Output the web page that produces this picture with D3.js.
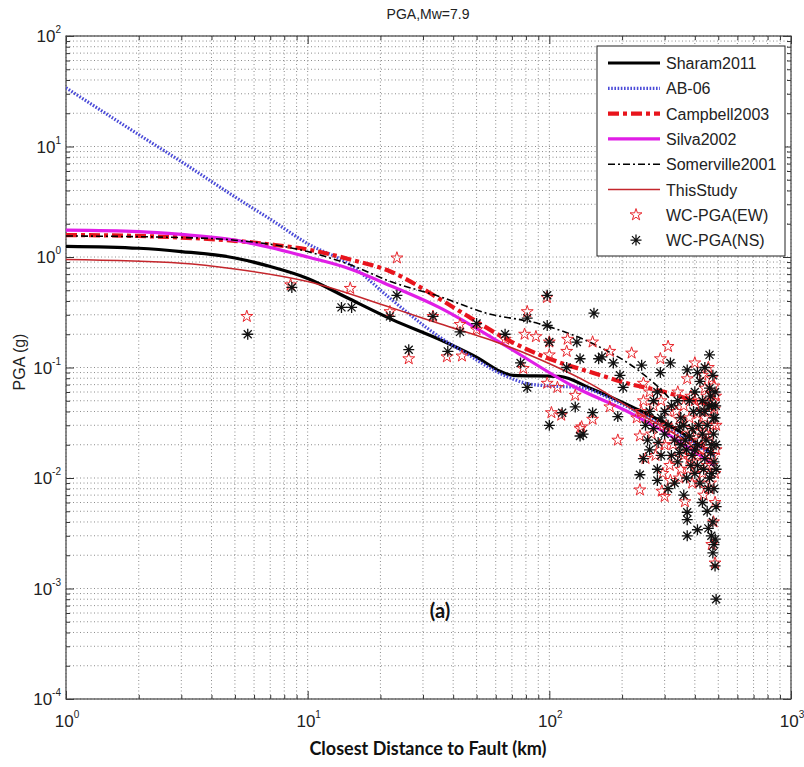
<!DOCTYPE html>
<html>
<head>
<meta charset="utf-8">
<script src="https://cdn.jsdelivr.net/npm/d3@7"></script>
<style>
  body { margin: 0; background: #fff; }
  svg { display: block; font-family: Arial, "Liberation Sans", sans-serif; }
</style>
</head>
<body>
<svg width="804" height="767"></svg>
<script>
// ground motion prediction curves, distance (km) vs PGA (g)
const sharamDist = [1, 2, 3, 5, 7, 10, 14.5, 22.5, 35, 48, 71, 110, 150, 220, 340, 480];
const sharamPga  = [1.25, 1.2, 1.12, 0.98, 0.82, 0.64, 0.43, 0.27, 0.18, 0.13, 0.085, 0.083, 0.064, 0.044, 0.027, 0.016];

const ab06Dist = [1, 2, 3, 5, 7, 10, 15, 22, 35, 45, 65, 80, 100, 135, 180, 250, 350, 480];
const ab06Pga  = [34, 12.8, 7.3, 3.5, 2.2, 1.32, 0.85, 0.42, 0.19, 0.135, 0.085, 0.072, 0.068, 0.066, 0.052, 0.036, 0.024, 0.016];

const campbellDist = [1, 2, 3, 5, 7, 10, 15, 22, 35, 45, 70, 100, 150, 210, 300, 400, 480];
const campbellPga  = [1.58, 1.55, 1.5, 1.4, 1.3, 1.17, 0.95, 0.74, 0.42, 0.3, 0.17, 0.12, 0.09, 0.072, 0.06, 0.05, 0.045];

const silvaDist = [1, 2, 3, 5, 7, 10, 15, 22, 35, 65, 125, 220, 350, 480];
const silvaPga  = [1.75, 1.7, 1.6, 1.42, 1.22, 1.0, 0.78, 0.55, 0.35, 0.16, 0.068, 0.038, 0.021, 0.013];

const somervilleDist = [1, 3, 5, 10, 15, 22, 35, 55, 90, 160, 240, 320, 380, 430, 480];
const somervillePga  = [1.55, 1.5, 1.42, 1.12, 0.85, 0.6, 0.44, 0.31, 0.25, 0.155, 0.09, 0.05, 0.03, 0.021, 0.016];

const thisStudyDist = [1, 3, 5, 10, 22, 35, 65, 90, 150, 220, 350, 480];
const thisStudyPga  = [0.95, 0.88, 0.78, 0.6, 0.35, 0.25, 0.16, 0.12, 0.07, 0.042, 0.023, 0.014];

// recorded PGA, [distance, pga]
const ewPoints = [
  [5.6,0.29],[8.5,0.56],[15,0.52],[23.4,0.98],[21.9,0.32],[26.2,0.12],[33,0.29],[37.7,0.125],
  [43.5,0.127],[42.7,0.245],[50,0.22],[65.6,0.18],[97.8,0.43],[81,0.32],[79,0.2],[88,0.19],
  [100,0.17],[119,0.18],[118,0.14],[100,0.13],[78,0.098],[98,0.072],[108,0.066],[128,0.056],
  [151,0.17],[178,0.14],[219,0.135],[102,0.039],[112,0.037],[151,0.034],[136,0.029],[192,0.022],
  [310,0.155],[288,0.12],[372,0.079],[245,0.072],[178,0.044],[134,0.028],[230,0.035],[237,0.024],
  [346,0.034],[237,0.0078],[292,0.0076],[300,0.0068],[317,0.0095],[364,0.0061],[485,0.0017],
  [260,0.06],[270,0.045],[280,0.03],[290,0.05],[300,0.02],[310,0.04],[320,0.028],[330,0.015],
  [340,0.06],[350,0.012],[360,0.045],[370,0.022],[380,0.035],[390,0.009],[400,0.05],[410,0.016],
  [420,0.03],[430,0.011],[440,0.065],[450,0.02],[460,0.008],[465,0.045],[470,0.013],[475,0.03],
  [480,0.05],[485,0.006],[490,0.018],[478,0.004],[470,0.0025],[488,0.055],[455,0.04],[445,0.025],
  [435,0.007],[425,0.018],[415,0.009],[405,0.026],[395,0.014],[385,0.055],[375,0.012],[365,0.028],
  [355,0.018],[345,0.01],[335,0.04],[325,0.02],[315,0.013],[305,0.03],[295,0.011],[285,0.02],
  [275,0.016],[265,0.025],[255,0.035],[250,0.015],[245,0.05],[240,0.04],
  [470,0.08],[455,0.1],[480,0.068],[430,0.085],[400,0.11],[440,0.035],[460,0.024],[475,0.016],
  [485,0.011],[465,0.009],[450,0.013],[420,0.022],[410,0.038],[395,0.02],[380,0.015],[490,0.03],
  [482,0.042],[468,0.058],[448,0.055],[425,0.045],[405,0.012],[360,0.016],[340,0.022]
];
const nsPoints = [
  [5.65,0.2],[8.6,0.53],[13.8,0.35],[15.2,0.35],[23.4,0.45],[21.9,0.29],[26.2,0.145],[33,0.29],
  [38,0.14],[42.7,0.21],[50,0.25],[65.6,0.2],[98,0.45],[81,0.28],[98,0.24],[100,0.17],
  [130,0.17],[118,0.1],[76,0.11],[81,0.066],[113,0.039],[128,0.044],[151,0.039],[100,0.03],
  [138,0.025],[192,0.036],[153,0.31],[165,0.125],[184,0.11],[196,0.085],[134,0.12],[160,0.12],
  [241,0.105],[317,0.11],[372,0.095],[410,0.09],[288,0.09],[202,0.066],[134,0.024],[282,0.021],
  [346,0.029],[237,0.0107],[280,0.0095],[372,0.0049],[372,0.0042],[372,0.003],[410,0.0034],
  [490,0.0008],[485,0.0016],[486,0.0028],
  [250,0.03],[260,0.018],[270,0.05],[280,0.012],[290,0.035],[300,0.025],[310,0.008],[320,0.045],
  [330,0.022],[340,0.014],[350,0.035],[360,0.007],[370,0.018],[380,0.05],[390,0.028],[400,0.011],
  [410,0.02],[420,0.04],[430,0.006],[440,0.015],[450,0.03],[460,0.01],[465,0.055],[470,0.02],
  [475,0.004],[480,0.008],[485,0.035],[490,0.012],[478,0.025],[470,0.045],[460,0.065],[450,0.005],
  [440,0.04],[430,0.025],[420,0.009],[410,0.013],[400,0.06],[390,0.016],[380,0.024],[370,0.01],
  [360,0.03],[350,0.02],[340,0.05],[330,0.009],[320,0.016],[310,0.03],[300,0.04],[290,0.016],
  [280,0.06],[270,0.028],[260,0.04],[255,0.022],[245,0.015],[480,0.0025],[475,0.0021],
  [468,0.003],[455,0.0035],
  [460,0.13],[440,0.1],[475,0.085],[420,0.075],[485,0.06],[445,0.022],[465,0.017],[480,0.014],
  [490,0.02],[470,0.011],[455,0.008],[435,0.012],[415,0.03],[395,0.04],[385,0.013],[488,0.045],
  [478,0.035],[458,0.045],[430,0.05],[400,0.018],[365,0.022],[345,0.017],[490,0.0055]
];

const xMajor = [1, 10, 100, 1000];
const yMajor = [1e-4, 1e-3, 1e-2, 1e-1, 1, 10, 100];

const svg = d3.select('svg');
const pLeft = 66, pRight = 791, pTop = 36, pBottom = 699;

const x = d3.scaleLog().domain([1, 1000]).range([pLeft, pRight]);
const y = d3.scaleLog().domain([1e-4, 100]).range([pBottom, pTop]);

// minor tick values 2..9 per decade
function minors(lo, hi) {
  const out = [];
  for (let e = lo; e < hi; e++)
    for (let m = 2; m <= 9; m++) out.push(m * Math.pow(10, e));
  return out;
}
const xMinor = minors(0, 3);
const yMinor = minors(-4, 2);

// grid
const grid = svg.append('g')
  .attr('stroke', '#8c8c8c')
  .attr('stroke-width', 1)
  .attr('stroke-dasharray', '1,2.5');
grid.selectAll('.gx').data(xMajor.concat(xMinor)).enter().append('line')
  .attr('x1', d => x(d)).attr('x2', d => x(d))
  .attr('y1', pTop).attr('y2', pBottom);
grid.selectAll('.gy').data(yMajor.concat(yMinor)).enter().append('line')
  .attr('y1', d => y(d)).attr('y2', d => y(d))
  .attr('x1', pLeft).attr('x2', pRight);

// ticks on all four sides, pointing inward
function ticks(axisFn, scale, vals, size, tr) {
  const g = svg.append('g').attr('transform', tr)
    .call(axisFn(scale).tickValues(vals).tickSizeInner(-size).tickSizeOuter(0).tickFormat(''));
  g.select('.domain').remove();
  g.selectAll('line').attr('stroke', '#333');
}
ticks(d3.axisBottom, x, xMajor, 8, `translate(0,${pBottom})`);
ticks(d3.axisBottom, x, xMinor, 4, `translate(0,${pBottom})`);
ticks(d3.axisTop, x, xMajor, 8, `translate(0,${pTop})`);
ticks(d3.axisTop, x, xMinor, 4, `translate(0,${pTop})`);
ticks(d3.axisLeft, y, yMajor, 8, `translate(${pLeft},0)`);
ticks(d3.axisLeft, y, yMinor, 4, `translate(${pLeft},0)`);
ticks(d3.axisRight, y, yMajor, 8, `translate(${pRight},0)`);
ticks(d3.axisRight, y, yMinor, 4, `translate(${pRight},0)`);

svg.append('rect')
  .attr('x', pLeft).attr('y', pTop)
  .attr('width', pRight - pLeft).attr('height', pBottom - pTop)
  .attr('fill', 'none').attr('stroke', '#444').attr('stroke-width', 1.2);

// tick labels as 10^n
function powLabel(sel) {
  sel.append('tspan').text('10');
  sel.append('tspan').attr('dy', -9).attr('font-size', 10)
    .text(d => Math.round(Math.log10(d)));
}
svg.append('g').selectAll('text').data(xMajor).enter().append('text')
  .attr('x', d => x(d) + 1).attr('y', pBottom + 28)
  .attr('text-anchor', 'middle').attr('font-size', 17).attr('fill', '#222')
  .call(powLabel);
svg.append('g').selectAll('text').data(yMajor).enter().append('text')
  .attr('x', pLeft - 5).attr('y', d => y(d) + 6)
  .attr('text-anchor', 'end').attr('font-size', 17).attr('fill', '#222')
  .call(powLabel);

// curves
const series = [
  { name: 'Sharam2011', dist: sharamDist, pga: sharamPga, color: '#000', width: 3.2, dash: null },
  { name: 'AB-06', dist: ab06Dist, pga: ab06Pga, color: '#4a4ad8', width: 3.2, dash: '1.6,1.6' },
  { name: 'Campbell2003', dist: campbellDist, pga: campbellPga, color: '#e8141c', width: 4.2, dash: '11,4,4,4' },
  { name: 'Silva2002', dist: silvaDist, pga: silvaPga, color: '#e01ee6', width: 3.2, dash: null },
  { name: 'Somerville2001', dist: somervilleDist, pga: somervillePga, color: '#000', width: 1.6, dash: '7,3,2,3' },
  { name: 'ThisStudy', dist: thisStudyDist, pga: thisStudyPga, color: '#c4262c', width: 1.5, dash: null },
];

svg.append('clipPath').attr('id', 'plot-clip').append('rect')
  .attr('x', pLeft).attr('y', pTop).attr('width', pRight - pLeft).attr('height', pBottom - pTop);

const line = d3.line().x(d => x(d[0])).y(d => y(d[1])).curve(d3.curveMonotoneX);
const curves = svg.append('g').attr('clip-path', 'url(#plot-clip)');
series.forEach(s => {
  curves.append('path')
    .datum(d3.zip(s.dist, s.pga))
    .attr('d', line)
    .attr('fill', 'none')
    .attr('stroke', s.color)
    .attr('stroke-width', s.width)
    .attr('stroke-dasharray', s.dash);
});

// markers
const starPath = d3.symbol(d3.symbolStar, 44)();
const astPath = 'M-5.5,0H5.5M0,-5.5V5.5M-4,-4L4,4M-4,4L4,-4';

function drawStar(g, px, py) {
  g.append('path').attr('d', starPath)
    .attr('transform', `translate(${px},${py})`)
    .attr('fill', 'none').attr('stroke', '#e8262c').attr('stroke-width', 1);
}
function drawAst(g, px, py) {
  g.append('path').attr('d', astPath)
    .attr('transform', `translate(${px},${py})`)
    .attr('fill', 'none').attr('stroke', '#111').attr('stroke-width', 1.3);
}

const marks = svg.append('g');
ewPoints.forEach(p => drawStar(marks, x(p[0]), y(p[1])));
nsPoints.forEach(p => drawAst(marks, x(p[0]), y(p[1])));

// legend
const lg = svg.append('g');
lg.append('rect')
  .attr('x', 597).attr('y', 46).attr('width', 188).attr('height', 210)
  .attr('fill', '#fff').attr('stroke', '#222').attr('stroke-width', 1);
const rowY = i => 63 + i * 25.3;
series.forEach((s, i) => {
  lg.append('line')
    .attr('x1', 608).attr('x2', 660).attr('y1', rowY(i)).attr('y2', rowY(i))
    .attr('stroke', s.color).attr('stroke-width', s.width)
    .attr('stroke-dasharray', s.dash);
  lg.append('text').attr('x', 666).attr('y', rowY(i) + 6)
    .attr('font-size', 16).attr('fill', '#222').text(s.name);
});
drawStar(lg, 636, rowY(6));
lg.append('text').attr('x', 666).attr('y', rowY(6) + 6)
  .attr('font-size', 16).attr('fill', '#222').text('WC-PGA(EW)');
drawAst(lg, 636, rowY(7));
lg.append('text').attr('x', 666).attr('y', rowY(7) + 6)
  .attr('font-size', 16).attr('fill', '#222').text('WC-PGA(NS)');

// titles
svg.append('text').attr('x', 428).attr('y', 19)
  .attr('text-anchor', 'middle').attr('font-size', 14).attr('fill', '#222')
  .text('PGA,Mw=7.9');
svg.append('text').attr('x', 428).attr('y', 755)
  .attr('text-anchor', 'middle').attr('font-size', 18).attr('font-weight', 'bold')
  .attr('font-family', 'Lato, "Open Sans", sans-serif').attr('fill', '#111')
  .text('Closest Distance to Fault (km)');
svg.append('text').attr('transform', 'translate(25,362) rotate(-90)')
  .attr('text-anchor', 'middle').attr('font-size', 16).attr('fill', '#222')
  .text('PGA (g)');
svg.append('text').attr('x', 440).attr('y', 618)
  .attr('text-anchor', 'middle').attr('font-size', 20).attr('font-weight', 'bold')
  .attr('font-family', 'Lato, "Open Sans", sans-serif').attr('fill', '#111')
  .text('(a)');
</script>
</body>
</html>
